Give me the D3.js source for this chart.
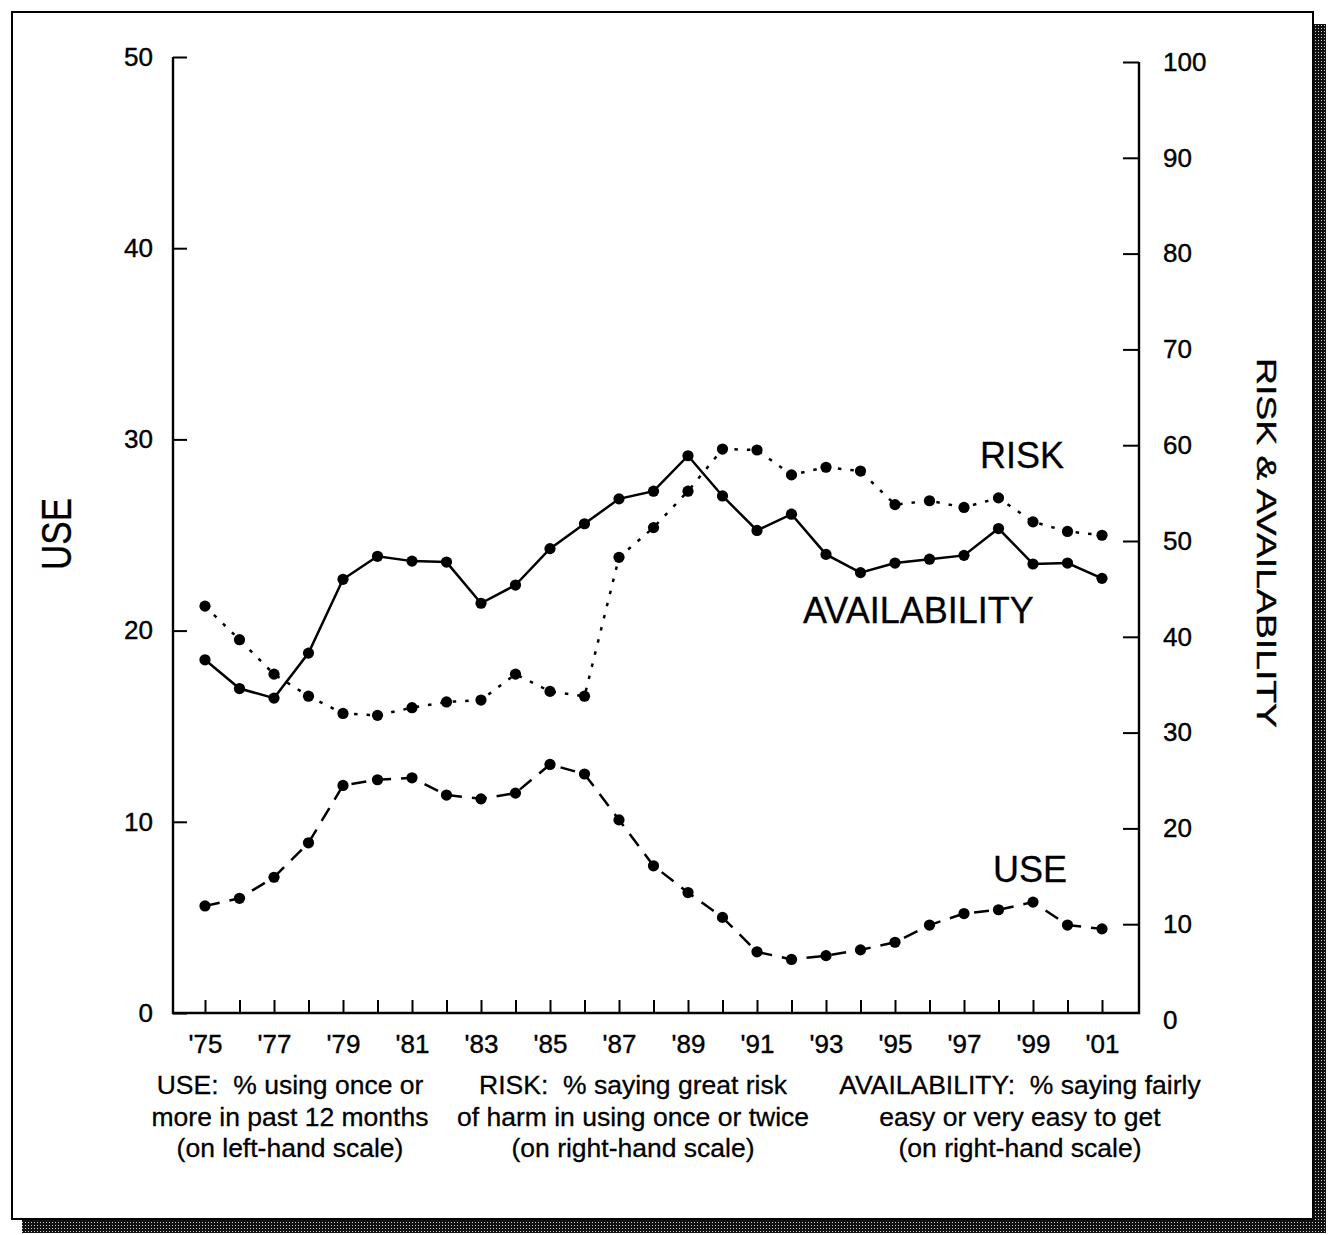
<!DOCTYPE html>
<html>
<head>
<meta charset="utf-8">
<script src="https://cdn.jsdelivr.net/npm/d3@7"></script>
<style>
  html, body { margin: 0; padding: 0; background: #fff; }
  svg { display: block; }
  text { font-family: "Liberation Sans", Arial, Helvetica, sans-serif; fill: #000; white-space: pre; }
</style>
</head>
<body>
<svg id="chart" width="1330" height="1235"></svg>
<script>
// ---- data ----
const years = [1975,1976,1977,1978,1979,1980,1981,1982,1983,1984,1985,1986,1987,1988,1989,1990,1991,1992,1993,1994,1995,1996,1997,1998,1999,2000,2001];
const useValues = [5.6,6.0,7.1,8.9,11.9,12.2,12.3,11.4,11.2,11.5,13.0,12.5,10.1,7.7,6.3,5.0,3.2,2.8,3.0,3.3,3.7,4.6,5.2,5.4,5.8,4.6,4.4];
const riskValues = [43.2,39.7,36.1,33.8,32.0,31.8,32.6,33.2,33.4,36.1,34.3,33.8,48.3,51.4,55.2,59.6,59.5,56.9,57.7,57.3,53.8,54.2,53.5,54.5,52.0,51.0,50.6];
const availValues = [37.6,34.6,33.6,38.3,46.0,48.4,47.9,47.8,43.5,45.4,49.2,51.8,54.4,55.2,58.9,54.7,51.1,52.8,48.6,46.7,47.7,48.1,48.5,51.3,47.6,47.7,46.1];
const leftTicks = [0,10,20,30,40,50];
const rightTicks = [0,10,20,30,40,50,60,70,80,90,100];
const yearLabel = y => (y % 2 === 1) ? "'" + String(y).slice(2) : "";
const seriesLabels = [
  {name: "RISK", key: "risk"},
  {name: "AVAILABILITY", key: "avail"},
  {name: "USE", key: "use"}
];
const notes = [
  ["USE:  % using once or", "more in past 12 months", "(on left-hand scale)"],
  ["RISK:  % saying great risk", "of harm in using once or twice", "(on right-hand scale)"],
  ["AVAILABILITY:  % saying fairly", "easy or very easy to get", "(on right-hand scale)"]
];

// ---- layout ----
const svg = d3.select("#chart");
const xLeft = 173, xRight = 1139, yBase = 1013;

const x = d3.scaleLinear().domain([1975, 2001]).range([205, 1102]);
const yL = d3.scaleLinear().domain([0, 50]).range([1013, 57]);
const yR = d3.scaleLinear().domain([0, 100]).range([1020, 62]);

// frame + halftone shadow
const defs = svg.append("defs");
const pat = defs.append("pattern").attr("id", "halftone")
  .attr("width", 3).attr("height", 3).attr("patternUnits", "userSpaceOnUse");
pat.append("rect").attr("width", 3).attr("height", 3).attr("fill", "#111");
pat.append("rect").attr("x", 1).attr("y", 1).attr("width", 1).attr("height", 1).attr("fill", "#ccc");

svg.append("rect").attr("x", 1313).attr("y", 24).attr("width", 13).attr("height", 1209).attr("fill", "url(#halftone)");
svg.append("rect").attr("x", 22).attr("y", 1219).attr("width", 1304).attr("height", 14).attr("fill", "url(#halftone)");
svg.append("rect").attr("x", 12).attr("y", 12).attr("width", 1301).attr("height", 1207)
  .attr("fill", "none").attr("stroke", "#000").attr("stroke-width", 2);

// axes
const axisStyle = g => {
  g.selectAll("path.domain").remove();
  g.selectAll(".tick line").attr("stroke", "#000").attr("stroke-width", 2);
  g.selectAll(".tick text").attr("font-size", 26).attr("fill", "#000")
    .attr("stroke", "#000").attr("stroke-width", 0.4)
    .attr("font-family", "'Liberation Sans', Arial, Helvetica, sans-serif");
};

svg.append("g").attr("transform", `translate(${xLeft},0)`)
  .call(d3.axisLeft(yL).tickValues(leftTicks).tickSize(-14).tickPadding(20))
  .call(axisStyle);

const rAxis = svg.append("g").attr("transform", `translate(${xRight},0)`)
  .call(d3.axisRight(yR).tickValues(rightTicks).tickSize(-16).tickPadding(24))
  .call(axisStyle);
rAxis.selectAll(".tick").filter(d => d === 0).select("line").remove();

svg.append("g").attr("transform", `translate(0,${yBase})`)
  .call(d3.axisBottom(x).tickValues(years).tickFormat(yearLabel).tickSize(-13).tickPadding(22))
  .call(axisStyle);

// axis lines
svg.append("path").attr("d", d3.line()([[xLeft, yL(50)], [xLeft, yBase], [xRight, yBase], [xRight, yR(100)]]))
  .attr("fill", "none").attr("stroke", "#000").attr("stroke-width", 2.4);

// series
const mk = (vals, scale) => years.map((yr, i) => ({yr, v: vals[i], s: scale}));
const series = [
  {key: "risk", data: mk(riskValues, yR), dash: "3.5,9"},
  {key: "avail", data: mk(availValues, yR), dash: null},
  {key: "use", data: mk(useValues, yL), dash: "15,10"}
];
const line = d3.line().x(d => x(d.yr)).y(d => d.s(d.v));
series.forEach(s => {
  svg.append("path").datum(s.data).attr("d", line)
    .attr("fill", "none").attr("stroke", "#000").attr("stroke-width", 2.5)
    .attr("stroke-dasharray", s.dash);
  svg.append("g").selectAll("circle").data(s.data).join("circle")
    .attr("cx", d => x(d.yr)).attr("cy", d => d.s(d.v)).attr("r", 5.6).attr("fill", "#000");
});

// series labels
const labelPos = {risk: [980, 468], avail: [803, 623], use: [993, 882]};
seriesLabels.forEach(l => {
  svg.append("text").attr("x", labelPos[l.key][0]).attr("y", labelPos[l.key][1])
    .attr("font-size", 36).attr("stroke", "#000").attr("stroke-width", 0.3).text(l.name);
});

// axis titles
svg.append("text").attr("transform", "translate(71,534) rotate(-90)")
  .attr("text-anchor", "middle").attr("font-size", 42)
  .attr("stroke", "#000").attr("stroke-width", 0.3)
  .attr("textLength", 72).attr("lengthAdjust", "spacingAndGlyphs").text("USE");
svg.append("text").attr("transform", "translate(1257,543) rotate(90)")
  .attr("text-anchor", "middle").attr("font-size", 28)
  .attr("stroke", "#000").attr("stroke-width", 0.4)
  .attr("textLength", 370).attr("lengthAdjust", "spacingAndGlyphs").text("RISK & AVAILABILITY");

// notes
const noteX = [290, 633, 1020];
const noteY = [1094, 1126, 1157];
notes.forEach((lines, i) => {
  lines.forEach((t, j) => {
    svg.append("text").attr("x", noteX[i]).attr("y", noteY[j])
      .attr("text-anchor", "middle").attr("font-size", 26.5)
      .attr("stroke", "#000").attr("stroke-width", 0.3).text(t);
  });
});
</script>
</body>
</html>
